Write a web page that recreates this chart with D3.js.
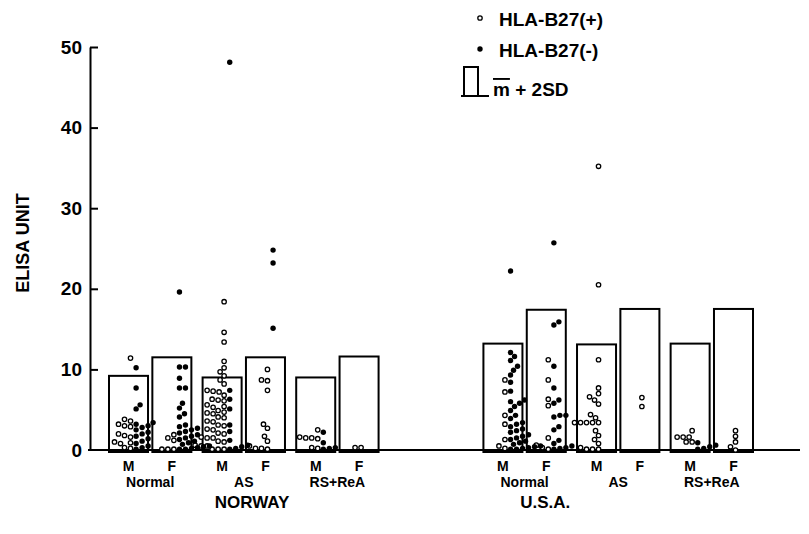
<!DOCTYPE html>
<html>
<head>
<meta charset="utf-8">
<script src="https://cdn.jsdelivr.net/npm/d3@7"></script>
<style>
  body { margin: 0; background: #fff; }
  text { font-family: "Liberation Sans", Arial, sans-serif; font-weight: bold; fill: #000; }
</style>
</head>
<body>
<script>
// categories
const countries = ["NORWAY", "U.S.A."];
const groups = ["Normal", "AS", "RS+ReA"];
const sexes = ["M", "F"];
const yTicks = [0, 10, 20, 30, 40, 50];

// m + 2SD bars, order: Normal M, Normal F, AS M, AS F, RS M, RS F
const norwayBars = [9.2, 11.5, 9.0, 11.5, 9.0, 11.6];
const usaBars = [13.2, 17.4, 13.1, 17.5, 13.2, 17.5];

// ELISA units, HLA-B27(+) = pos (open), HLA-B27(-) = neg (filled)
const norNormalMPos = [11.4, 3.8, 3.6, 3.2, 3.0, 2.9, 2.0, 1.8, 1.6, 1.0, 0.9, 0.8, 0.3, 0.2];
const norNormalMNeg = [10.2, 7.7, 5.6, 5.1, 3.4, 3.2, 3.0, 2.8, 2.5, 2.2, 2.0, 1.7, 1.4, 1.1, 0.8, 0.5, 0.3, 0.1];
const norNormalFPos = [1.9, 1.5, 1.2, 0.1, 0.1, 0.1];
const norNormalFNeg = [19.6, 10.3, 10.3, 8.9, 7.7, 7.7, 5.8, 5.2, 4.5, 4.1, 3.1, 2.9, 2.7, 2.5, 2.3, 2.1, 1.9, 1.7, 1.5, 1.3, 1.1, 0.9, 0.7, 0.5, 0.4, 0.3, 0.2, 0.1, 0.1];
const norASMPos = [18.4, 14.6, 13.4, 11.0, 10.2, 9.7, 9.2, 8.7, 8.2, 7.4, 7.3, 7.2, 6.8, 6.3, 6.2, 6.1, 5.6, 5.4, 5.3, 4.9, 4.7, 4.6, 4.5, 4.1, 4.0, 3.6, 3.5, 3.1, 3.0, 2.6, 2.5, 2.1, 2.0, 1.6, 1.5, 1.5, 1.1, 1.0, 0.6, 0.5, 0.5, 0.1, 0.1, 0.1];
const norASMNeg = [48.1, 7.4, 6.3, 5.1, 3.1, 2.3, 1.2, 0.6, 0.4, 0.2, 0.1];
const norASFPos = [10.0, 8.7, 8.6, 7.4, 3.2, 2.7, 1.7, 1.1, 0.5, 0.2, 0.2, 0.1];
const norASFNeg = [24.8, 23.2, 15.1];
const norRSMPos = [2.5, 1.6, 1.5, 1.5, 1.4, 0.3, 0.2];
const norRSMNeg = [2.2, 0.9, 0.3, 0.2, 0.1];
const norRSFPos = [0.3, 0.3];
const norRSFNeg = [];
const usaNormalMPos = [8.7, 7.2, 4.3, 3.2, 1.3, 0.5, 0.2];
const usaNormalMNeg = [22.2, 12.1, 11.6, 11.1, 10.4, 9.9, 9.3, 8.4, 7.3, 6.2, 6.0, 5.8, 5.4, 4.9, 4.3, 3.9, 3.4, 3.2, 2.9, 2.6, 2.4, 2.2, 1.9, 1.7, 1.5, 1.3, 1.1, 0.9, 0.7, 0.5, 0.4, 0.3, 0.2, 0.1, 0.1];
const usaNormalFPos = [11.2, 8.7, 6.3, 5.5, 1.5, 0.6, 0.3, 0.1];
const usaNormalFNeg = [25.7, 15.9, 15.5, 10.4, 7.7, 6.2, 5.8, 4.3, 4.3, 4.1, 2.9, 2.5, 1.2, 0.8, 0.5, 0.3, 0.2, 0.1];
const usaASMPos = [35.2, 20.5, 11.2, 7.7, 7.0, 6.6, 6.2, 5.7, 4.4, 4.0, 3.4, 3.4, 3.4, 3.4, 3.4, 2.4, 1.8, 1.3, 0.8, 0.3, 0.1, 0.1, 0.1];
const usaASMNeg = [];
const usaASFPos = [6.5, 5.4];
const usaASFNeg = [];
const usaRSMPos = [2.4, 1.6, 1.6, 1.6, 1.0, 1.0];
const usaRSMNeg = [0.9, 0.6, 0.4, 0.2, 0.1];
const usaRSFPos = [2.4, 1.7, 1.0, 0.4, 0.0];
const usaRSFNeg = [];

const dots = {
  "NORWAY": [[norNormalMPos, norNormalMNeg], [norNormalFPos, norNormalFNeg], [norASMPos, norASMNeg],
             [norASFPos, norASFNeg], [norRSMPos, norRSMNeg], [norRSFPos, norRSFNeg]],
  "U.S.A.": [[usaNormalMPos, usaNormalMNeg], [usaNormalFPos, usaNormalFNeg], [usaASMPos, usaASMNeg],
             [usaASFPos, usaASFNeg], [usaRSMPos, usaRSMNeg], [usaRSFPos, usaRSFNeg]]
};
const bars = { "NORWAY": norwayBars, "U.S.A.": usaBars };

// build cells
const cells = [];
countries.forEach(c => {
  groups.forEach((g, gi) => {
    sexes.forEach((s, si) => {
      const i = gi * 2 + si;
      cells.push({ country: c, group: g, sex: s, key: c + "|" + g, bar: bars[c][i], pos: dots[c][i][0], neg: dots[c][i][1] });
    });
  });
});

const width = 809, height = 534;
const svg = d3.select("body").append("svg")
  .attr("width", width)
  .attr("height", height)
  .style("background-color", "white");

const y = d3.scaleLinear().domain([0, 50]).range([450, 47]);

const outerDomain = [
  "NORWAY|Normal", "NORWAY|AS", "NORWAY|RS+ReA", "gap",
  "U.S.A.|Normal", "U.S.A.|AS", "U.S.A.|RS+ReA"
];
const x0 = d3.scaleBand().domain(outerDomain).range([109, 753]).paddingInner(0.12);
const x1 = d3.scaleBand().domain(sexes).range([0, x0.bandwidth()]).paddingInner(0.1);

// y axis, ticks pointing inward
const yAxis = svg.append("g")
  .attr("transform", "translate(90,0)")
  .call(d3.axisLeft(y).tickValues(yTicks).tickSizeInner(-8).tickSizeOuter(0).tickPadding(8));
yAxis.selectAll("path, line").attr("stroke", "#000").attr("stroke-width", 2);
yAxis.selectAll("text")
  .attr("font-size", "19px")
  .style("font-family", "'Liberation Sans', Arial, sans-serif")
  .style("font-weight", "bold");
yAxis.select(".tick line").remove();

// x axis line
svg.append("line")
  .attr("x1", 88).attr("x2", 800)
  .attr("y1", y(0)).attr("y2", y(0))
  .attr("stroke", "#000").attr("stroke-width", 2);

svg.append("text")
  .attr("transform", "translate(29,243) rotate(-90)")
  .attr("text-anchor", "middle")
  .attr("font-size", "18px")
  .text("ELISA UNIT");

// bars
svg.append("g").selectAll("rect")
  .data(cells)
  .join("rect")
  .attr("x", d => x0(d.key) + x1(d.sex))
  .attr("y", d => y(d.bar))
  .attr("width", x1.bandwidth())
  .attr("height", d => y(0) - y(d.bar) + 2)
  .attr("fill", "none")
  .attr("stroke", "#000")
  .attr("stroke-width", 2);

// dot swarm layout
const r = 2.2;
const dmin = 2 * r + 1.2;
function swarm(values, anchor, dir) {
  const placed = [];
  values.slice().sort((a, b) => a - b).forEach(v => {
    const cy = y(v);
    let cx = anchor;
    while (placed.some(p => (p.x - cx) ** 2 + (p.y - cy) ** 2 < dmin * dmin)) cx += dir;
    placed.push({ x: cx, y: cy, v: v });
  });
  return placed;
}

const openPts = [], filledPts = [];
cells.forEach(d => {
  const cx = x0(d.key) + x1(d.sex) + x1.bandwidth() / 2;
  swarm(d.pos, cx + 2, -1).forEach(p => openPts.push(p));
  swarm(d.neg, cx + 2 + dmin, 1).forEach(p => filledPts.push(p));
});

svg.append("g").selectAll("circle")
  .data(openPts)
  .join("circle")
  .attr("cx", d => d.x)
  .attr("cy", d => d.y)
  .attr("r", r)
  .attr("fill", "white")
  .attr("stroke", "#000")
  .attr("stroke-width", 1.3);

svg.append("g").selectAll("circle")
  .data(filledPts)
  .join("circle")
  .attr("cx", d => d.x)
  .attr("cy", d => d.y)
  .attr("r", r + 0.5)
  .attr("fill", "#000");

// category labels
svg.append("g").selectAll("text")
  .data(cells)
  .join("text")
  .attr("x", d => x0(d.key) + x1(d.sex) + x1.bandwidth() / 2)
  .attr("y", 471)
  .attr("text-anchor", "middle")
  .attr("font-size", "14px")
  .text(d => d.sex);

svg.append("g").selectAll("text")
  .data(outerDomain.filter(k => k !== "gap"))
  .join("text")
  .attr("x", d => x0(d) + x0.bandwidth() / 2)
  .attr("y", 487)
  .attr("text-anchor", "middle")
  .attr("font-size", "14px")
  .text(d => d.split("|")[1]);

svg.append("text")
  .attr("x", x0("NORWAY|AS") + x0.bandwidth() * 0.6)
  .attr("y", 508)
  .attr("text-anchor", "middle")
  .attr("font-size", "17px")
  .text(countries[0]);

svg.append("text")
  .attr("x", x0("U.S.A.|Normal") + x0.bandwidth() * 0.75)
  .attr("y", 508)
  .attr("text-anchor", "middle")
  .attr("font-size", "17px")
  .text(countries[1]);

// legend
const legend = svg.append("g");
legend.append("circle").attr("cx", 480).attr("cy", 18).attr("r", r)
  .attr("fill", "white").attr("stroke", "#000").attr("stroke-width", 1.3);
legend.append("text").attr("x", 499).attr("y", 26).attr("font-size", "19px").text("HLA-B27(+)");
legend.append("circle").attr("cx", 480).attr("cy", 49).attr("r", r + 0.5).attr("fill", "#000");
legend.append("text").attr("x", 499).attr("y", 57).attr("font-size", "19px").text("HLA-B27(-)");
legend.append("path")
  .attr("d", "M464,96V67H478V96")
  .attr("fill", "none").attr("stroke", "#000").attr("stroke-width", 2);
legend.append("line").attr("x1", 461).attr("x2", 489).attr("y1", 96).attr("y2", 96)
  .attr("stroke", "#000").attr("stroke-width", 2);
const lt = legend.append("text").attr("x", 493).attr("y", 96).attr("font-size", "19px");
lt.append("tspan").style("text-decoration", "overline").text("m");
lt.append("tspan").text(" + 2SD");
</script>
</body>
</html>
